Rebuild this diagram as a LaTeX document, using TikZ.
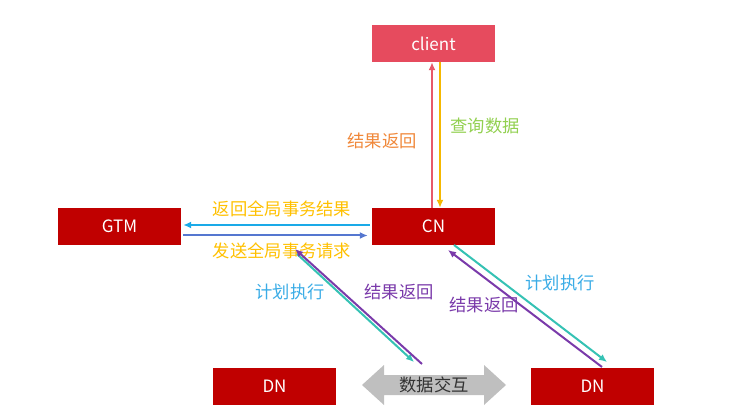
\documentclass[tikz,border=0pt]{standalone}
\usepackage{fontspec}
\setmainfont{Noto Sans CJK SC}
\usetikzlibrary{arrows.meta,calc}
\definecolor{clientred}{HTML}{E64B5E}
\definecolor{darkred}{HTML}{C00000}
\definecolor{pinkarr}{HTML}{E8596A}
\definecolor{goldarr}{HTML}{F5B800}
\definecolor{orangelbl}{HTML}{F0883A}
\definecolor{greenlbl}{HTML}{92D050}
\definecolor{goldlbl}{HTML}{FFC000}
\definecolor{cyanarr}{HTML}{1AAAE8}
\definecolor{bluearr}{HTML}{5577D0}
\definecolor{tealarr}{HTML}{35C2B4}
\definecolor{purplearr}{HTML}{7A3AAA}
\definecolor{bluelbl}{HTML}{3AACE6}
\definecolor{graybody}{HTML}{BFBFBF}
\begin{document}
\begin{tikzpicture}[x=1pt,y=-1pt,
  box/.style={minimum width=123pt,minimum height=37pt,inner sep=0pt,text=white,font=\fontsize{17}{19}\selectfont},
  lbl/.style={inner sep=0pt,font=\fontsize{17.3}{19}\selectfont},
  conn/.style={line width=2pt,-{Latex[length=8pt,width=7pt]}}]
\useasboundingbox (0,0) rectangle (730,419);
% boxes
\node[box,fill=clientred] (client) at (433.5,43.5) {client};
\node[box,fill=darkred] (GTM) at (119.5,226.5) {GTM};
\node[box,fill=darkred] (CN) at (433.5,226.5) {CN};
\node[box,fill=darkred] (DNl) at (274.5,386) {DN};
\node[box,fill=darkred] (DNr) at (592.5,386) {DN};
% data exchange double arrow
\fill[graybody] (362,385) -- (384,365) -- (384,375) -- (484,375) -- (484,365) -- (506,385)
  -- (484,405) -- (484,395) -- (384,395) -- (384,405) -- cycle;
\node[lbl,text=black!80] (xchg) at (434,385) {数据交互};
% client <-> CN
\coordinate (a1) at ($(CN.north)+(-1.5,0)$);
\coordinate (a2) at ($(client.south)+(-1.5,0)$);
\coordinate (b1) at ($(client.south)+(6.5,0)$);
\coordinate (b2) at ($(CN.north)+(6.5,0)$);
\draw[conn,pinkarr] (a1) -- (a2);
\draw[conn,goldarr] (b1) -- (b2);
\node[lbl,text=orangelbl] (l1) at (382,141) {结果返回};
\node[lbl,text=greenlbl] (l2) at (485,126) {查询数据};
% CN <-> GTM
\coordinate (c1) at ($(CN.west)+(-2,-1.5)$);
\coordinate (c2) at ($(GTM.east)+(2,-1.5)$);
\coordinate (d1) at ($(GTM.east)+(2,9)$);
\coordinate (d2) at ($(CN.west)+(-4,9)$);
\draw[conn,cyanarr] (c1) -- (c2);
\draw[conn,bluearr] (d1) -- (d2);
\node[lbl,text=goldlbl] (l3) at (282,209) {返回全局事务结果};
\node[lbl,text=goldlbl] (l4) at (282,251) {发送全局事务请求};
% CN <-> left DN
\coordinate (e1) at (297,254);
\coordinate (e2) at (414,362);
\coordinate (f1) at (422,364);
\coordinate (f2) at (295,249);
\draw[conn,tealarr] (e1) -- (e2);
\draw[conn,purplearr] (f1) -- (f2);
\node[lbl,text=bluelbl] (l5) at (290,292) {计划执行};
\node[lbl,text=purplearr] (l6) at (399,292) {结果返回};
% CN <-> right DN
\coordinate (g1) at (454,245);
\coordinate (g2) at (607,362);
\coordinate (h1) at (602,367);
\coordinate (h2) at (448,250);
\draw[conn,tealarr] (g1) -- (g2);
\draw[conn,purplearr] (h1) -- (h2);
\node[lbl,text=bluelbl] (l7) at (560,283) {计划执行};
\node[lbl,text=purplearr] (l8) at (484,305) {结果返回};
\end{tikzpicture}
\end{document}
